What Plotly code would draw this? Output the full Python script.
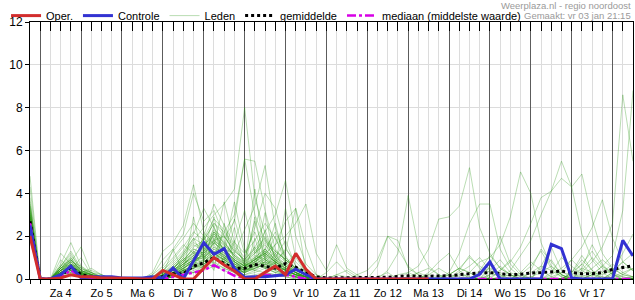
import pandas as pd
import plotly.graph_objects as go

# ---------------- data (mm per 6 h) ----------------
start_time = "2025-01-03 18:00"
n_steps = 60
day_labels = ["Za 4", "Zo 5", "Ma 6", "Di 7", "Wo 8", "Do 9", "Vr 10",
              "Za 11", "Zo 12", "Ma 13", "Di 14", "Wo 15", "Do 16", "Vr 17"]
label_first_day = "2025-01-04"

oper = [2.0, 0, 0, .05, .2, .1, .1, .05, .05, .05, .02, 0, 0, .4, .2, 0, 0,
        .5, 1.0, .65, .37, 0, 0, .31, .6, .2, 1.2, .45, 0, 0, 0, 0, 0, 0, 0, 0, 0,
        0, 0, 0]

controle = [2.5, 0, 0, .2, .6, .05, .1, .1, .1, .05, .05, .05, .1, .05, .52, 0, .85,
            1.7, 1.15, 1.42, .49, .08, .1, .1, .15, .2, .46, .2, 0, 0, 0, 0, 0, 0, 0, 0, 0,
            0, 0, 0, 0, 0, 0, 0, .22, .8, 0, 0, 0, 0, 0, 1.62, 1.42, .05, 0, 0, 0,
            0, 1.8, 1.08]

gemiddelde = [2.7, 0, 0, .15, .55, .2, .1, .05, .02, 0, 0, 0, .05, .1, .25, .25, .6,
              .75, 1.0, .72, .5, .5, .68, .6, .5, .72, .55, .3, .1, .05, .05, .05, .05,
              .05, .05, .08, .12, .15, .12, .12, .15, .15, .2, .25, .28, .3, .25, .2, .22,
              .28, .3, .35, .37, .3, .25, .25, .3, .45, .55, .62]

mediaan = [2.6, 0, 0, .1, .4, .1, 0, 0, 0, 0, 0, 0, 0, 0, .1, .2, .3,
           .4, .65, .4, .15, .05, .1, .2, .15, .2, .1, 0, 0,
           0, 0, 0, 0, 0, 0, 0, 0, 0, 0, 0, 0, 0, 0, 0, 0, 0, 0, 0, 0, 0, 0, 0, 0,
           0, 0, 0, 0, 0, 0, 0]

leden = [
    [2.6, 0,0, .3,.6, .2,.1,0,0, 0,0,0,.1, .3,.5,.2,.8, 1.2,2.1,1.5,.8, .4,1.0,.6,.3, .5,.3,.1,0, 0,0,0,0, 0,.1,.3,0, 0,0,.2,.1, 0,0,.1,0, 0,.1,.2,0, 0,0,.1,.3, .2,.1,0,0, .1,.3,.5],
    [3.1, 0,0, .4,.9, .3,0,0,0, 0,0,0,0, .2,.6,1.1,1.8, 2.4,3.0,3.5,4.2, 8.0,3.8,2.1,1.0, .6,.3,.1,0, 0,0,0,0, 0,0,0,0, .1,0,0,0, 0,.2,.1,0, 0,0,0,0, .1,0,0,0, 0,0,.2,.1, 0,0,.1],
    [2.2, 0,0, .1,.3, .1,.2,.1,0, 0,0,0,0, 0,.2,.4,.3, .6,1.0,.7,.5, .3,.6,.9,.7, 1.4,.8,.3,.1, 0,0,0,0, 0,0,0,0, 0,.3,.1,0, 0,0,0,0, .1,.3,.1,0, 0,.5,.9,.2, 0,.1,.3,.2, .4,.8,1.2],
    [2.9, 0,0, .6,1.2, .4,.2,.1,0, 0,0,0,.3, 1.3,1.7,2.5,4.4, 2.2,1.6,1.0,.6, .5,.9,1.3,.8, .4,.2,.1,0, 0,0,0,0, 0,0,0,0, 0,0,0,0, 0,0,0,0, 0,0,0,0, 0,0,0,0, .3,1.1,.4,0, 0,0,.1],
    [3.4, 0,0, .2,.7, .5,.3,0,0, 0,0,0,0, .1,.4,.8,1.5, 1.8,2.6,2.2,3.0, 5.6,5.5,3.2,1.4, .9,.4,.2,0, 0,0,0,0, 0,0,0,0, 0,0,0,0, 0,0,0,.3, .5,.2,0,0, 0,0,0,0, 0,0,0,0, 0,0,0],
    [2.5, 0,0, .3,.5, .2,.1,0,0, 0,0,0,0, 0,.3,.7,1.0, 1.6,2.0,1.4,1.2, 2.3,3.4,5.3,2.4, 1.0,.5,.2,0, 0,0,0,0, 0,0,0,0, 0,0,0,0, 0,.4,1.1,.5, 0,0,0,0, 0,0,0,0, 0,0,0,0, .2,.6,.4],
    [2.8, 0,0, .4,.8, .6,.3,.2,0, 0,0,0,0, .2,.5,.9,1.2, 1.4,1.8,2.0,1.3, .9,1.5,2.2,3.0, 4.6,2.0,.7,.2, 0,0,0,0, 0,0,0,0, 0,0,0,0, 0,0,0,0, 0,0,0,0, 0,0,0,0, .3,.9,.4,.1, 0,0,0],
    [2.3, 0,0, .2,.4, .3,.1,0,0, 0,0,0,0, 0,.1,.3,.5, .7,1.1,.9,.6, .3,.8,1.2,1.6, 2.0,2.6,3.5,1.2, .4,1.6,.5,.2, 0,0,0,0, 0,0,0,0, 0,0,0,0, .2,.6,.2,0, 0,0,0,0, 0,0,0,0, 0,0,0],
    [2.7, 0,0, .3,.5, .2,0,0,0, 0,0,0,0, .1,.2,.4,.6, .9,1.3,1.0,.8, .5,.7,1.0,.6, .4,.2,.1,0, 0,0,0,0, 0,0,0,.2, .3,.6,1.4,2.8, 2.9,3.4,5.2,2.4, 1.2,.5,.2,0, 0,0,0,0, 0,0,0,0, 0,0,0],
    [3.0, 0,0, .5,1.0, .3,.2,0,0, 0,0,0,0, .4,.8,1.3,2.1, 3.3,2.4,1.6,1.1, .6,1.1,.9,.5, .3,.1,0,0, 0,0,0,0, 0,0,.4,1.2, 3.9,1.5,.6,.2, 0,0,0,0, 0,0,0,0, 0,0,0,0, 0,0,0,0, 0,0,0],
    [2.4, 0,0, .2,.3, .1,0,0,0, 0,0,0,0, 0,.2,.5,.9, 1.0,1.5,1.2,.7, .4,.6,.8,.5, .2,.1,0,0, 0,0,0,0, 0,0,0,0, 0,0,0,0, 0,0,.3,.8, 1.0,1.6,2.9,5.0, 4.0,1.7,.6,.2, 0,0,0,0, 0,0,0],
    [2.6, 0,0, .4,.7, .2,.1,0,0, 0,0,0,0, .1,.3,.6,.9, 1.3,1.9,1.4,.9, .6,1.0,1.4,.9, .5,.3,.1,0, 0,0,0,0, 0,0,0,0, 0,0,0,0, 0,0,0,0, .2,.4,.8,1.5, 2.6,3.8,4.1,5.5, 4.3,2.1,.9,.3, 0,0,0],
    [2.1, 0,0, .1,.2, .1,0,0,0, 0,0,0,0, 0,.1,.2,.4, .6,.9,.7,.4, .3,.5,.7,.4, .2,.1,0,0, 0,0,0,0, 0,0,0,0, 0,0,0,0, 0,0,0,0, 0,0,.4,1.1, 1.8,3.0,4.1,4.7, 4.3,4.9,2.8,1.2, .5,.2,.1],
    [3.2, 0,0, .6,.9, .4,.1,0,0, 0,0,0,.1, .5,1.0,1.6,1.2, 1.9,2.8,2.3,1.5, .8,1.2,1.6,1.0, .7,.3,.1,0, 0,0,0,0, 0,0,0,0, 0,0,0,0, 0,0,0,0, 0,0,0,0, 0,0,0,.3, .9,1.5,2.4,3.7, 1.9,.8,.4],
    [2.0, 0,0, .2,.4, .1,0,0,0, 0,0,0,0, 0,.2,.3,.5, .8,1.2,.9,.6, .4,.7,.5,.3, .2,.1,0,0, 0,0,0,0, 0,0,0,0, 0,0,0,0, 0,0,0,0, 0,0,0,0, 0,0,0,0, 0,.3,.8,1.5, 2.6,8.6,5.5],
    [3.6, 0,0, .3,.6, .2,.1,0,0, 0,0,0,0, .2,.4,.7,1.1, 1.5,2.2,1.8,1.0, .6,.9,1.2,.8, .6,.4,.2,0, 0,0,0,0, 0,0,0,0, 0,0,0,0, 0,0,0,0, 0,0,0,0, 0,0,0,0, 0,0,.2,.6, 1.1,3.2,8.8],
    [2.8, 0,0, .4,.5, .3,.2,.1,0, 0,0,0,0, .1,.4,.8,1.3, 1.1,1.7,1.3,.8, .5,.8,1.1,.7, .4,.2,0,0, 0,0,0,0, 0,0,0,0, 0,0,0,0, .3,1.2,2.6,3.5, 3.5,1.4,.5,.1, 0,0,0,0, 0,0,0,0, 0,0,0],
    [2.5, 0,0, .3,.6, .2,0,0,0, 0,0,0,0, 0,.2,.5,.8, 1.0,1.4,1.1,.7, .5,.7,.9,.6, .3,.1,0,0, 0,0,0,.2, .4,.9,2.0,1.4, .6,.2,0,0, 0,0,0,0, 0,0,0,0, 0,0,0,0, 0,0,0,0, 0,0,0],
    [2.9, 0,0, .5,.8, .3,.1,0,0, 0,0,0,.2, .6,1.3,1.9,2.6, 2.0,3.5,2.5,1.6, 1.0,2.4,4.0,3.3, 1.5,.6,.2,0, 0,0,0,0, 0,0,0,0, 0,0,0,0, 0,0,0,0, 0,0,0,0, 0,0,0,0, 0,0,0,0, 0,0,0],
    [2.4, 0,0, .1,.2, .1,0,0,0, 0,0,0,0, 0,.1,.3,.5, .6,.8,.5,.3, .2,.4,.6,.4, .2,.1,0,0, 0,0,0,0, 0,0,0,0, 0,0,0,0, .2,.5,1.0,.6, .3,.1,0,0, 0,0,0,0, 0,.2,.5,.9, .5,.2,.1],
    [3.3, 0,0, .6,1.1, .5,.3,.1,0, 0,0,0,0, .3,.7,1.2,1.9, 1.6,2.3,1.9,2.7, 5.6,3.0,1.8,1.1, .7,.3,.1,0, 0,0,0,0, 0,0,0,0, 0,0,0,0, 0,0,0,0, .6,2.0,.7,.2, 0,0,0,0, 0,0,0,0, 0,0,0],
    [3.0, 0,0, .7,1.7, .6,.2,.1,0, 0,0,0,.2, .9,1.4,2.1,4.0, 2.7,3.2,2.0,1.2, .7,.4,.3,.2, .1,0,0,0, 0,0,0,0, 0,0,0,0, 0,0,0,0, 0,0,0,0, 0,0,0,0, .4,1.4,.8,.2, 0,0,0,0, 0,0,0],
    [2.7, 0,0, .5,.8, 1.5,.3,.1,0, 0,0,0,0, .2,.5,.9,1.4, 1.2,1.6,3.6,1.7, 1.2,1.8,2.6,1.9, 1.0,.5,.2,0, 0,0,0,0, 0,0,0,0, 0,0,0,0, 0,0,0,0, 0,0,0,0, 0,0,0,0, 0,.5,1.6,.7, .2,0,0],
    [2.3, 0,0, 1.2,.7, .4,.2,0,0, 0,0,0,0, .1,.3,.6,.9, .8,1.2,.9,.5, .3,.5,.7,.9, 1.3,3.3,.3,.1, 0,0,0,0, 0,0,0,0, 0,0,0,0, 0,0,0,0, 0,0,0,0, 0,0,0,0, 0,0,0,0, 0,0,0],
    [4.8, 0,0, .3,.5, .2,.1,0,0, 0,0,0,0, 0,.2,.4,.7, .9,1.3,1.0,.7, .4,.6,.8,.5, .3,.6,.3,.1, 0,0,0,0, 0,0,0,0, 0,0,0,.1, .2,.5,.3,.1, 0,0,0,0, 0,0,0,0, .3,.7,.2,0, 0,0,0],
    [4.3, 0,0, .4,.7, .3,.2,0,0, 0,0,0,0, .2,.5,1.0,1.6, 1.3,2.0,1.6,1.0, .7,1.2,1.7,1.2, .8,.4,.2,0, 0,0,0,0, 0,0,0,0, 0,0,0,0, 0,0,0,0, 0,0,0,0, .3,.6,.4,.1, 0,0,0,0, 0,0,0],
    [2.6, 0,0, .2,.4, .1,0,0,0, 0,0,0,0, 0,.1,.2,.3, .5,.7,.5,.3, .2,.3,.5,.3, .2,.1,0,0, 0,0,0,0, 0,0,0,0, 0,0,.3,.8, 1.2,.4,0,0, 0,0,0,0, 0,0,0,0, 0,0,0,0, 0,.2,.5],
    [2.2, 0,0, .3,.5, .2,.1,0,0, 0,0,0,0, .1,.2,.4,.6, .7,1.0,.8,.5, .4,.6,.8,.6, .4,.2,.1,0, 0,0,0,0, 0,0,0,0, 0,0,0,0, 0,0,0,0, 0,.4,.9,.3, 0,0,0,0, 0,0,0,0, 0,0,0],
    [3.8, 0,0, .5,.9, .4,.2,.1,0, 0,0,0,0, .3,.6,1.1,1.7, 1.4,2.1,1.7,1.1, .8,1.3,1.8,1.3, .9,.5,.2,0, 0,0,0,0, 0,0,0,0, 0,0,0,0, 0,0,0,0, 0,0,0,0, 0,0,.3,1.0, .6,.2,0,0, 0,0,0],
    [2.5, 0,0, .2,.6, .3,.1,0,0, 0,0,0,0, 0,.2,.5,.8, 1.1,1.5,1.1,.7, .5,.7,1.0,.7, .4,.2,.1,0, 0,0,0,0, 0,0,0,0, 0,0,0,0, 0,0,0,0, 0,0,0,0, 0,0,0,0, .2,.7,1.3,.6, .2,.1,0],
    [2.9, 0,0, .4,.6, .3,.1,0,0, 0,0,0,0, .1,.3,.7,1.1, 1.5,2.2,1.7,1.1, .7,1.0,1.4,.9, .6,.3,.1,0, 0,.2,.1,0, 0,0,0,0, 0,0,0,0, 0,0,0,0, 0,0,0,0, 0,0,0,0, 0,0,0,0, .3,1.2,2.1],
    [1.8, 0,0, .1,.2, .1,0,0,0, 0,0,0,0, 0,.1,.2,.3, .4,.6,.4,.2, .1,.2,.3,.2, .1,0,0,0, 0,0,0,0, 0,0,0,0, 0,0,0,0, 0,0,0,0, 0,0,0,0, 0,0,0,0, 0,0,0,0, 0,0,0],
    [2.0, 0,0, .3,.4, .2,.1,0,0, 0,0,0,0, 0,.2,.4,.6, .8,1.2,.9,.6, .4,.5,.7,.5, .3,.2,.1,0, 0,.2,.4,.1, 0,0,0,0, 0,0,0,0, 0,0,0,0, 0,0,0,0, 0,0,0,0, 0,0,0,0, 0,0,0],
    [3.1, 0,0, .5,.7, .3,.2,0,0, 0,0,0,0, .2,.4,.8,1.2, 1.0,1.4,1.1,.8, .6,.8,1.1,.8, .5,.2,.1,0, 0,0,0,0, 0,0,0,0, .1,.3,.5,.2, 0,0,0,0, 0,0,0,0, 0,0,0,0, 0,0,0,0, 0,0,0],
    [2.6, 0,0, .3,.5, .2,.1,0,0, 0,0,0,0, .1,.3,.5,.8, 1.2,1.7,1.3,.9, .6,.9,1.2,.8, .5,.3,.1,0, 0,0,0,0, 0,0,0,0, 0,0,0,0, 0,0,0,0, 0,0,0,0, 0,0,0,0, 0,0,0,0, 0,0,0],
    [2.8, 0,0, .4,.6, .3,.4,.2,0, 0,0,0,0, .1,.4,.7,1.0, 1.3,1.8,1.4,.9, .6,.9,1.2,.8, .5,.3,.1,0, 0,0,0,0, 0,0,0,0, 0,0,0,0, 0,0,0,0, 0,0,0,0, 0,0,0,0, 0,0,0,0, 0,0,0],
    [2.4, 0,0, .2,.4, .2,.1,0,0, 0,0,0,0, 0,.2,.4,.6, 2.1,.5,1.0,.6, .4,2.9,.9,.6, .4,.2,0,0, 0,0,0,0, 0,0,0,0, 0,0,.2,.5, .2,.1,0,0, .4,.9,.3,.1, 0,0,0,0, .2,.5,.3,0, 0,0,0],
    [2.7, 0,0, .3,.5, .2,.1,0,0, 0,0,0,0, .1,.3,.6,.9, 1.1,.4,2.6,.8, .5,.8,3.1,.7, .4,.2,.1,0, 0,0,0,0, 0,0,0,0, .3,.1,0,0, 0,0,0,0, 0,0,0,0, 0,.6,1.5,.4, 0,0,0,0, .3,.8,.4],
    [3.5, 0,0, .6,1.3, .5,.2,.1,0, 0,0,0,.1, .4,.9,1.5,2.2, 1.8,2.6,2.0,1.3, .9,1.4,1.9,1.3, .9,.5,.2,0, 0,0,0,0, 0,0,0,0, 0,0,0,0, 0,.3,.6,1.0, .4,.2,0,0, 0,0,0,0, 0,0,0,0, 0,0,0],
    [2.3, 0,0, .2,.3, .1,0,0,0, 0,0,0,0, 0,.1,.3,.5, .7,1.0,.8,.5, .3,.5,.7,.5, .3,.1,0,0, 0,0,0,0, 0,0,0,0, 0,0,0,0, 0,0,0,0, 0,0,0,.3, .8,.4,.1,0, 0,.4,1.0,.5, .2,0,0],
    [2.9, 0,0, .4,.7, .3,.1,0,0, 0,0,0,0, .2,1.4,.3,2.9, .8,2.5,.6,1.7, 3.2,1.2,2.0,.6, 3.3,1.0,.3,0, 0,0,0,0, 0,0,0,0, 0,0,0,0, 0,0,0,0, 0,0,0,0, 0,0,0,0, 0,0,0,0, 0,0,0],
    [2.1, 0,0, .2,.5, .2,.1,0,0, 0,0,0,0, .1,.2,.6,1.3, .5,1.9,.7,2.4, .6,4.2,1.1,2.6, .8,.3,.1,0, 0,0,0,0, 0,0,0,0, 0,0,0,0, .2,.5,.3,0, 0,0,0,0, .1,.3,.6,.2, 0,0,0,0, 0,0,0],
    [3.0, 0,0, .9,.4, 1.0,.2,0,0, 0,0,0,0, .1,.3,.9,.5, 2.0,.7,1.5,3.6, 1.4,.6,2.3,1.0, 1.8,.6,.2,0, 0,0,0,0, 0,0,0,0, 0,0,0,0, 0,0,0,.4, 1.1,.5,.2,0, 0,0,0,0, 0,0,0,.3, .7,.3,.1],
    [2.5, 0,0, .3,.6, .3,.5,.2,0, 0,0,0,0, 0,.2,.4,1.0, 1.6,1.1,2.2,1.4, .8,2.7,1.0,2.0, .7,1.2,.3,0, 0,0,0,0, 0,0,0,0, 0,0,0,0, 0,0,0,0, 0,0,0,0, 0,0,0,0, 0,0,0,0, 0,0,0],
    [2.8, 0,0, .5,1.0, .4,.2,0,0, 0,0,0,0, .2,.5,1.0,.6, 1.3,2.9,.9,1.8, .6,1.5,.5,1.2, .4,.2,.1,0, .3,.8,.3,0, 0,0,0,0, 0,0,0,0, 0,0,0,0, 0,0,0,0, 0,0,0,0, 0,0,0,0, 0,0,0],
    [3.4, 0,0, .4,.8, .3,.1,0,0, 0,0,0,0, .1,.4,1.2,1.9, 1.0,2.2,1.3,2.8, 1.2,2.2,.9,1.6, 2.7,3.3,1.5,.2, 0,0,0,0, 0,0,0,0, 0,0,0,0, 0,0,0,0, 0,0,0,0, 0,0,0,0, 0,0,0,0, 0,0,0],
    [2.2, 0,0, .3,.5, .2,.1,0,0, 0,0,0,0, 0,.2,.5,.8, .6,1.2,.8,.5, .3,1.9,.5,.8, .4,.2,0,0, 0,0,0,0, 0,.6,2.0,1.8, .5,.2,0,0, 0,0,0,0, 0,0,0,0, 0,0,0,0, 0,0,0,0, 0,0,0],
    [2.6, 0,0, .4,.6, .2,.3,.1,0, 0,0,0,0, .1,.3,.7,1.1, .9,1.7,1.2,.6, .3,.7,1.4,2.2, 1.1,.3,0,0, 0,0,0,0, 0,0,0,0, 0,0,0,0, 0,0,0,0, 0,0,0,0, 0,0,.2,.5, .9,.4,.1,0, 0,0,0],
    [2.4, 0,0, .2,.4, .1,0,0,0, 0,0,0,0, 0,.1,.3,.7, .5,.9,1.4,.8, .5,.4,.8,1.3, .9,.5,.2,0, 0,0,0,0, 0,0,0,0, 0,0,0,0, 0,0,0,0, 0,0,0,.2, .6,1.3,.5,.1, 0,0,0,0, 0,0,0],
    [3.2, 0,0, .5,.9, .4,.2,.1,0, 0,0,0,0, .2,.5,.9,1.4, 1.2,1.8,1.4,.9, .6,.9,1.3,.9, .6,.3,.1,0, 0,0,0,0, 0,0,0,0, 0,0,0,0, 0,0,0,0, 0,0,0,0, 0,0,0,0, 0,0,.2,.6, .3,.1,0],
]

for k, m in enumerate(leden):
    if len(m) != n_steps:
        raise ValueError(f"member {k} has {len(m)} values")
for nm, s in [("controle", controle), ("gemiddelde", gemiddelde), ("mediaan", mediaan)]:
    if len(s) != n_steps:
        raise ValueError(f"{nm} has {len(s)} values")

# ---------------- figure ----------------
times = pd.date_range(start_time, periods=n_steps, freq="6h")
label_noons = pd.date_range(label_first_day, periods=len(day_labels), freq="D") + pd.Timedelta(hours=12)
noon_map = {t: lab for t, lab in zip(label_noons, day_labels)}
ticktext = [noon_map.get(t, "") for t in times]
x_range = [times[0], times[-1]]

FONT = "Liberation Sans, Arial, sans-serif"
fig = go.Figure()

for k, m in enumerate(leden):
    fig.add_trace(go.Scatter(
        x=times, y=m, mode="lines", name="Leden", legendgroup="leden",
        showlegend=(k == 0), legendrank=3, hoverinfo="skip",
        line=dict(color="rgba(40,150,20,0.32)", width=1)))

fig.add_trace(go.Scatter(x=times, y=gemiddelde, mode="lines", name="gemiddelde",
                         legendrank=4, line=dict(color="black", width=3, dash="dot")))
fig.add_trace(go.Scatter(x=times, y=mediaan, mode="lines", name="mediaan (middelste waarde)",
                         legendrank=5, line=dict(color="rgb(215,0,230)", width=2.5, dash="dashdot")))
fig.add_trace(go.Scatter(x=times, y=controle, mode="lines", name="Controle",
                         legendrank=2, line=dict(color="rgb(50,50,210)", width=3)))
fig.add_trace(go.Scatter(x=times[:len(oper)], y=oper, mode="lines", name="Oper.",
                         legendrank=1, line=dict(color="rgb(210,45,45)", width=3)))
# carrier for the top axis
fig.add_trace(go.Scatter(x=[times[0]], y=[None], xaxis="x2", yaxis="y",
                         showlegend=False, hoverinfo="skip", mode="lines"))

W, H = 635, 300
ML, MR, MT, MB = 30, 1, 20, 19
PW = W - ML - MR
PH = H - MT - MB


def px_x(px):
    return (px - ML) / PW


def px_y(py):
    return 1 + (MT - py) / PH


fig.update_layout(
    width=W, height=H, autosize=False,
    margin=dict(l=ML, r=MR, t=MT, b=MB, pad=0),
    paper_bgcolor="white", plot_bgcolor="white",
    font=dict(family=FONT, size=11, color="black"),
    showlegend=True,
    legend=dict(orientation="h", x=px_x(6), xanchor="left", y=px_y(13.5), yanchor="middle",
                font=dict(size=11, family=FONT), bgcolor="rgba(0,0,0,0)",
                itemwidth=30, traceorder="normal"),
    xaxis=dict(type="date", range=x_range, tickmode="array", tickvals=list(times),
               ticktext=ticktext, ticks="outside", ticklen=4, tickcolor="black",
               showgrid=True, gridcolor="#dcdcdc", gridwidth=1,
               showline=True, linecolor="black", linewidth=1,
               tickfont=dict(size=11, family=FONT), zeroline=False),
    xaxis2=dict(type="date", range=x_range, overlaying="x", side="top", anchor="y",
                tickmode="linear", tick0="2025-01-04", dtick=86400000,
                ticks="inside", ticklen=9, tickcolor="black",
                showticklabels=False, showgrid=True, gridcolor="#5c5c5c", gridwidth=1,
                showline=True, linecolor="black", linewidth=1, zeroline=False,
                minor=dict(tick0=start_time, dtick=21600000, ticks="inside", ticklen=9,
                           tickcolor="black", showgrid=False)),
    yaxis=dict(range=[0, 12], tickmode="linear", tick0=0, dtick=2,
               ticks="outside", ticklen=4, tickcolor="black",
               showgrid=True, gridcolor="#dcdcdc", gridwidth=1,
               showline=True, linecolor="black", linewidth=1, mirror=True,
               zeroline=False, tickfont=dict(size=12, family=FONT)),
    annotations=[
        dict(text="Weerplaza.nl - regio noordoost", xref="paper", yref="paper",
             x=px_x(634), xanchor="right", y=px_y(3.5), yanchor="middle",
             showarrow=False, font=dict(size=9.5, color="#9a9a9a", family=FONT)),
        dict(text="Gemaakt: vr 03 jan 21:15", xref="paper", yref="paper",
             x=px_x(634), xanchor="right", y=px_y(13.5), yanchor="middle",
             showarrow=False, font=dict(size=9.5, color="#9a9a9a", family=FONT)),
    ],
)

fig.write_html("out.html")
